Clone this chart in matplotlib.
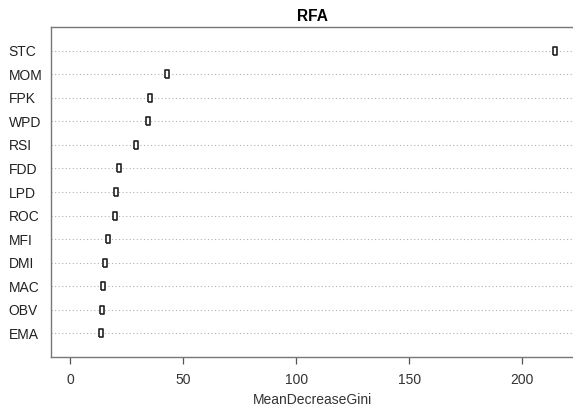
import matplotlib.pyplot as plt
import numpy as np

plt.rcParams['font.family'] = ['Liberation Sans', 'DejaVu Sans']

# variable importance, top to bottom as in the picture
labels = ['STC', 'MOM', 'FPK', 'WPD', 'RSI', 'FDD', 'LPD',
          'ROC', 'MFI', 'DMI', 'MAC', 'OBV', 'EMA']
gini = [214.4, 42.6, 35.1, 34.2, 28.9, 21.6, 20.1,
        19.8, 16.7, 15.5, 14.4, 14.2, 13.5]
xticks = [0, 50, 100, 150, 200]

W, H = 573, 409
fig = plt.figure(figsize=(W / 100, H / 100), dpi=100)
ax = fig.add_axes([51 / W, (H - 357) / H, (574 - 51) / W, 330 / H])

n = len(labels)
ypos = np.arange(n, 0, -1)

# dotted guide lines across the whole panel
for y in ypos:
    ax.axhline(y, color='#b0b0b0', lw=0.8, ls=(0, (1, 2.2)), zorder=1)

# narrow open box markers (R dotchart circle squeezed)
box = [(-0.5, -1), (0.5, -1), (0.5, 1), (-0.5, 1), (-0.5, -1)]
ax.plot(gini, ypos, ls='none', marker=box, markersize=6,
        markerfacecolor='white', markeredgecolor='#222222',
        markeredgewidth=1.2, zorder=3)

xmax = max(gini)
ax.set_xlim(-0.04 * xmax, 1.04 * xmax)
ax.set_ylim(0, n + 1)

ax.set_yticks(ypos)
ax.set_yticklabels(labels)
for t in ax.get_yticklabels():
    t.set_ha('left')
ax.tick_params(axis='y', length=0, pad=30.5, labelsize=10, colors='#222222')

ax.set_xticks(xticks)
ax.tick_params(axis='x', direction='out', length=5, width=0.9,
               color='#555555', labelsize=10, labelcolor='#333333', pad=6.5)

for s in ax.spines.values():
    s.set_color('#777777')
    s.set_linewidth(1.0)

ax.set_xlabel('MeanDecreaseGini', fontsize=10, color='#333333', labelpad=4)
ax.set_title('RFA', fontsize=11.2, fontweight='bold', pad=4)

fig.savefig('out.png', dpi=100)
